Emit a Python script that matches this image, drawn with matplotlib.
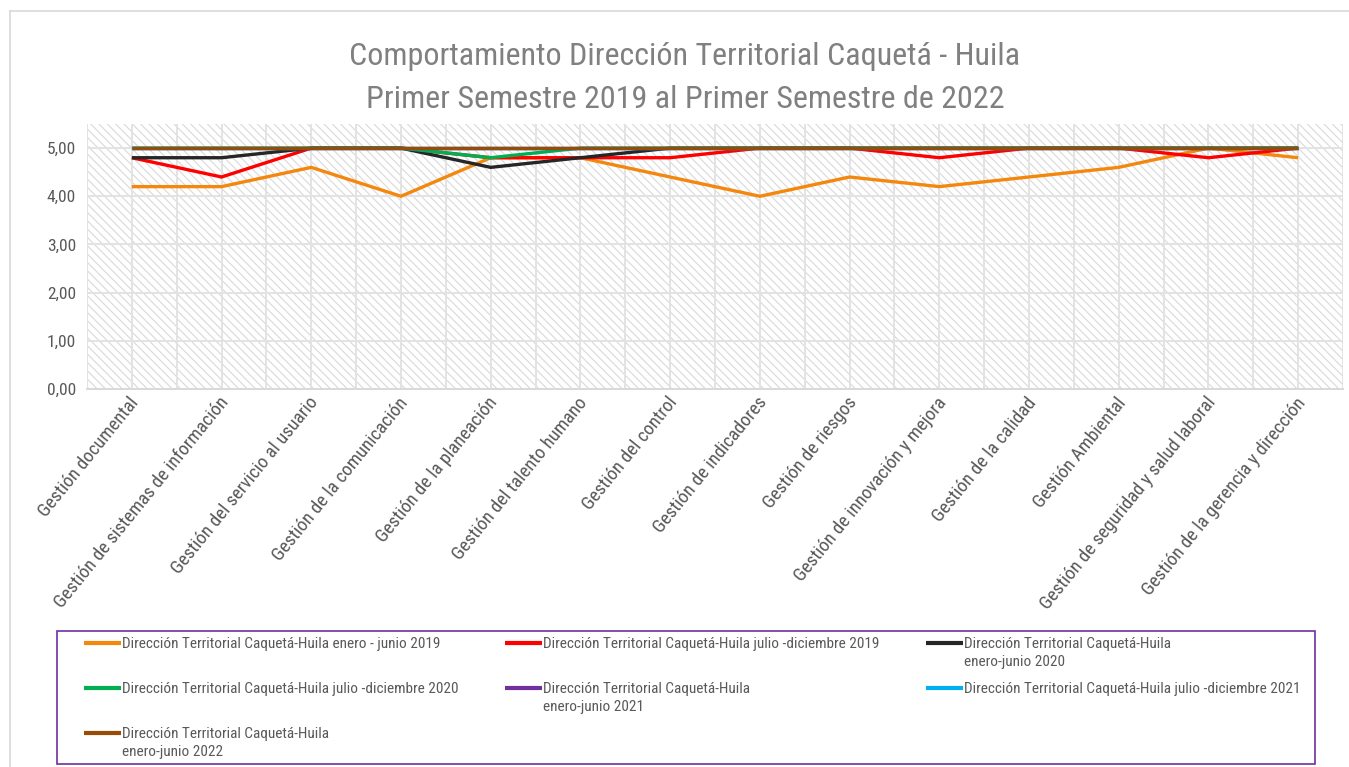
import numpy as np
import matplotlib
matplotlib.use("Agg")
import matplotlib.pyplot as plt
from matplotlib.lines import Line2D
from matplotlib.patches import Rectangle
import matplotlib.transforms as mtransforms

# ---- data -------------------------------------------------------------
categories = [
    "Gestión documental",
    "Gestión de sistemas de información",
    "Gestión del servicio al usuario",
    "Gestión de la comunicación",
    "Gestión de la planeación",
    "Gestión del talento humano",
    "Gestión del control",
    "Gestión de indicadores",
    "Gestión de riesgos",
    "Gestión de innovación y mejora",
    "Gestión de la calidad",
    "Gestión Ambiental",
    "Gestión de seguridad y salud laboral",
    "Gestión de la gerencia y dirección",
]

ene_jun_2019 = [4.2, 4.2, 4.6, 4.0, 4.8, 4.8, 4.4, 4.0, 4.4, 4.2, 4.4, 4.6, 5.0, 4.8]
jul_dic_2019 = [4.8, 4.4, 5.0, 5.0, 4.8, 4.8, 4.8, 5.0, 5.0, 4.8, 5.0, 5.0, 4.8, 5.0]
ene_jun_2020 = [4.8, 4.8, 5.0, 5.0, 4.6, 4.8, 5.0, 5.0, 5.0, 5.0, 5.0, 5.0, 5.0, 5.0]
jul_dic_2020 = [5.0, 5.0, 5.0, 5.0, 4.8, 5.0, 5.0, 5.0, 5.0, 5.0, 5.0, 5.0, 5.0, 5.0]
ene_jun_2021 = [5.0, 5.0, 5.0, 5.0, 5.0, 5.0, 5.0, 5.0, 5.0, 5.0, 5.0, 5.0, 5.0, 5.0]
jul_dic_2021 = [5.0, 5.0, 5.0, 5.0, 5.0, 5.0, 5.0, 5.0, 5.0, 5.0, 5.0, 5.0, 5.0, 5.0]
ene_jun_2022 = [5.0, 5.0, 5.0, 5.0, 5.0, 5.0, 5.0, 5.0, 5.0, 5.0, 5.0, 5.0, 5.0, 5.0]

series_labels = [
    "Dirección Territorial Caquetá-Huila enero - junio 2019",
    "Dirección Territorial Caquetá-Huila julio -diciembre 2019",
    "Dirección Territorial Caquetá-Huila\nenero-junio 2020",
    "Dirección Territorial Caquetá-Huila julio -diciembre 2020",
    "Dirección Territorial Caquetá-Huila\nenero-junio 2021",
    "Dirección Territorial Caquetá-Huila julio -diciembre 2021",
    "Dirección Territorial Caquetá-Huila\nenero-junio 2022",
]
series_values = [ene_jun_2019, jul_dic_2019, ene_jun_2020, jul_dic_2020,
                 ene_jun_2021, jul_dic_2021, ene_jun_2022]
series_colors = ["#F4880F", "#FF0000", "#262626", "#00B050",
                 "#7030A0", "#00B0F0", "#994C06"]

y_ticks = [0, 1, 2, 3, 4, 5]
title_text = ("Comportamiento Dirección Territorial Caquetá - Huila\n"
              "Primer Semestre 2019 al Primer Semestre de 2022")

# ---- style ------------------------------------------------------------
FONT = ["Roboto Condensed", "Archivo Narrow", "PT Sans Narrow",
        "Liberation Sans", "DejaVu Sans"]
plt.rcParams["font.family"] = FONT
plt.rcParams["hatch.linewidth"] = 0.8
TEXT_GRAY = "#595959"

W, H = 1349, 767
fig = plt.figure(figsize=(W / 100, H / 100), dpi=100)
fig.patch.set_facecolor("white")

# outer chart border
fig.add_artist(Line2D([10 / W, 10 / W], [0, 1 - 11 / H], transform=fig.transFigure,
                      color="#d9d9d9", lw=1.2))
fig.add_artist(Line2D([10 / W, 1], [1 - 11 / H, 1 - 11 / H], transform=fig.transFigure,
                      color="#d9d9d9", lw=1.2))

ax_l, ax_r, ax_t, ax_b = 87, 1343, 124, 389
ax = fig.add_axes([ax_l / W, 1 - ax_b / H, (ax_r - ax_l) / W, (ax_b - ax_t) / H])

# hatched plot area
ax.patch.set_facecolor("white")
ax.patch.set_edgecolor("#d9d9d9")
ax.patch.set_linewidth(0)
ax.patch.set_hatch("\\\\\\\\")

x = np.arange(len(categories))
for vals, lab, col in zip(series_values, series_labels, series_colors):
    ax.plot(x, vals, color=col, lw=2.4, label=lab, solid_joinstyle="round",
            solid_capstyle="butt", zorder=3)

ax.set_xlim(-0.5, len(categories) - 0.5)
ax.set_ylim(0, 5.5)
ax.set_yticks(y_ticks)
ax.set_yticklabels([f"{v:.2f}".replace(".", ",") for v in y_ticks],
                   fontsize=12.5, color=TEXT_GRAY)

# grid: horizontal at each unit, vertical at categories and between them
ax.set_xticks(x)
ax.set_xticks(np.arange(-0.5, len(categories), 1.0), minor=True)
ax.grid(True, which="both", axis="x", color="#e3e3e3", lw=1.4, zorder=1)
ax.grid(True, which="major", axis="y", color="#e3e3e3", lw=1.4, zorder=1)
ax.set_axisbelow(True)
ax.tick_params(axis="both", which="both", length=0)
ax.tick_params(axis="y", pad=8)
ax.tick_params(axis="x", pad=4)

ax.set_xticklabels(categories, rotation=51, ha="right", va="center",
                   rotation_mode="anchor", fontsize=13.5, color=TEXT_GRAY)
offset = mtransforms.ScaledTranslation(4 / 100, -5 / 100, fig.dpi_scale_trans)
for lbl in ax.get_xticklabels():
    lbl.set_transform(lbl.get_transform() + offset)

for s in ["top", "right", "left"]:
    ax.spines[s].set_visible(False)
ax.spines["bottom"].set_color("#d9d9d9")
ax.spines["bottom"].set_linewidth(1.4)

# title
fig.text(685 / W, 1 - 78 / H, title_text, ha="center", va="center",
         fontsize=23, color="#808080", linespacing=1.6)

# legend box
fig.add_artist(Rectangle((57 / W, 1 - 764 / H), (1315 - 57) / W, (764 - 631) / H,
                         transform=fig.transFigure, fill=False,
                         edgecolor="#7030A0", lw=1.2))

# legend entries: three columns filled row by row
handles, labels = ax.get_legend_handles_labels()
order = [0, 3, 6, 1, 4, 2, 5]
lab_pad = [labels[i] if "\n" in labels[i] else labels[i] + "\n " for i in order]
leg = fig.legend([handles[i] for i in order], lab_pad, ncol=3,
                 loc="upper left", bbox_to_anchor=(84 / W, 1 - 637 / H),
                 frameon=False, fontsize=11, handlelength=2.4,
                 handletextpad=0.07, labelspacing=0.86, borderaxespad=0.0,
                 borderpad=0.0, columnspacing=3.07, labelcolor=TEXT_GRAY)
for t in leg.get_texts():
    t.set_linespacing(1.35)
for ln in leg.get_lines():
    ln.set_linewidth(3.0)
    ln.set_ydata(np.asarray(ln.get_ydata(), dtype=float) + 7.3)

fig.savefig("out.png", dpi=100)
